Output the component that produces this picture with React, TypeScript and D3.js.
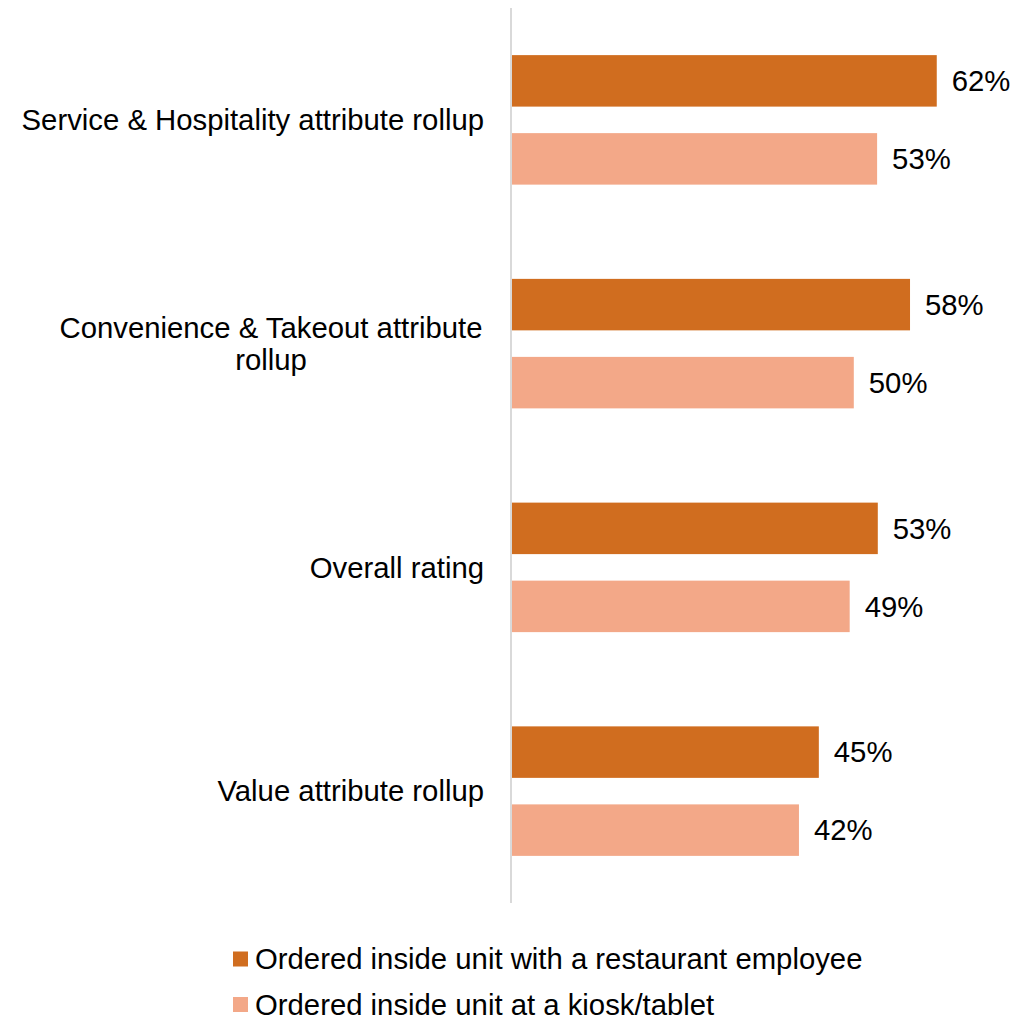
import React from "react";
import * as d3 from "d3";

const categories = [
  ["Service & Hospitality attribute rollup"],
  ["Convenience & Takeout attribute", "rollup"],
  ["Overall rating"],
  ["Value attribute rollup"],
];
const seriesNames = [
  "Ordered inside unit with a restaurant employee",
  "Ordered inside unit at a kiosk/tablet",
];
const employeeValues = [62.1, 58.2, 53.5, 44.9];
const kioskValues = [53.4, 50.0, 49.4, 42.0];
const employeeLabels = ["62%", "58%", "53%", "45%"];
const kioskLabels = ["53%", "50%", "49%", "42%"];
const colors = ["#D06D1F", "#F3A888"];

const W = 1035;
const H = 1017;
const FONT = "'Liberation Sans', Arial, sans-serif";
const FS = 29.3;

export default function App() {
  const x = d3.scaleLinear().domain([0, 75]).range([511, 511 + 75 * 6.856]);
  const catKeys = categories.map((_, i) => String(i));
  const y = d3.scaleBand().domain(catKeys).range([8, 903]).paddingInner(0).paddingOuter(0);
  const inner = d3
    .scaleBand()
    .domain(["0", "1"])
    .range([0, y.bandwidth()])
    .paddingInner(0.34)
    .paddingOuter(0.604);
  const seriesValues = [employeeValues, kioskValues];
  const seriesLabels = [employeeLabels, kioskLabels];

  return (
    <svg
      width={W}
      height={H}
      style={{ position: "absolute", left: 0, top: 0, background: "#fff" }}
      fontFamily={FONT}
    >
      <rect x={0} y={0} width={W} height={H} fill="#fff" />
      {categories.map((lines, ci) => {
        const y0 = (y(String(ci)) as number) + y.bandwidth() / 2;
        const lh = 32;
        const startY = y0 - ((lines.length - 1) * lh) / 2;
        const widest = lines.length > 1;
        return (
          <g key={ci}>
            {seriesValues.map((vals, si) => {
              const by = (y(String(ci)) as number) + (inner(String(si)) as number);
              return (
                <g key={si}>
                  <rect
                    x={x(0)}
                    y={by}
                    width={x(vals[ci]) - x(0)}
                    height={inner.bandwidth()}
                    fill={colors[si]}
                  />
                  <text
                    x={x(vals[ci]) + 15}
                    y={by + inner.bandwidth() / 2}
                    dy="0.35em"
                    fontSize={FS}
                    fill="#000"
                  >
                    {seriesLabels[si][ci]}
                  </text>
                </g>
              );
            })}
            {widest ? (
              <text fontSize={FS} fill="#000" textAnchor="middle">
                {lines.map((l, li) => (
                  <tspan key={li} x={271} y={startY + li * lh} dy="0.35em">
                    {l}
                  </tspan>
                ))}
              </text>
            ) : (
              <text x={484} y={startY} dy="0.35em" fontSize={FS} fill="#000" textAnchor="end">
                {lines[0]}
              </text>
            )}
          </g>
        );
      })}
      <line x1={x(0)} x2={x(0)} y1={8} y2={903} stroke="#D9D9D9" strokeWidth={2} />
      {seriesNames.map((name, i) => (
        <g key={i} transform={`translate(233, ${959 + i * 45.5})`}>
          <rect x={0} y={-7.5} width={15} height={15} fill={colors[i]} />
          <text x={22} y={0} dy="0.35em" fontSize={FS} fill="#000">
            {name}
          </text>
        </g>
      ))}
    </svg>
  );
}
